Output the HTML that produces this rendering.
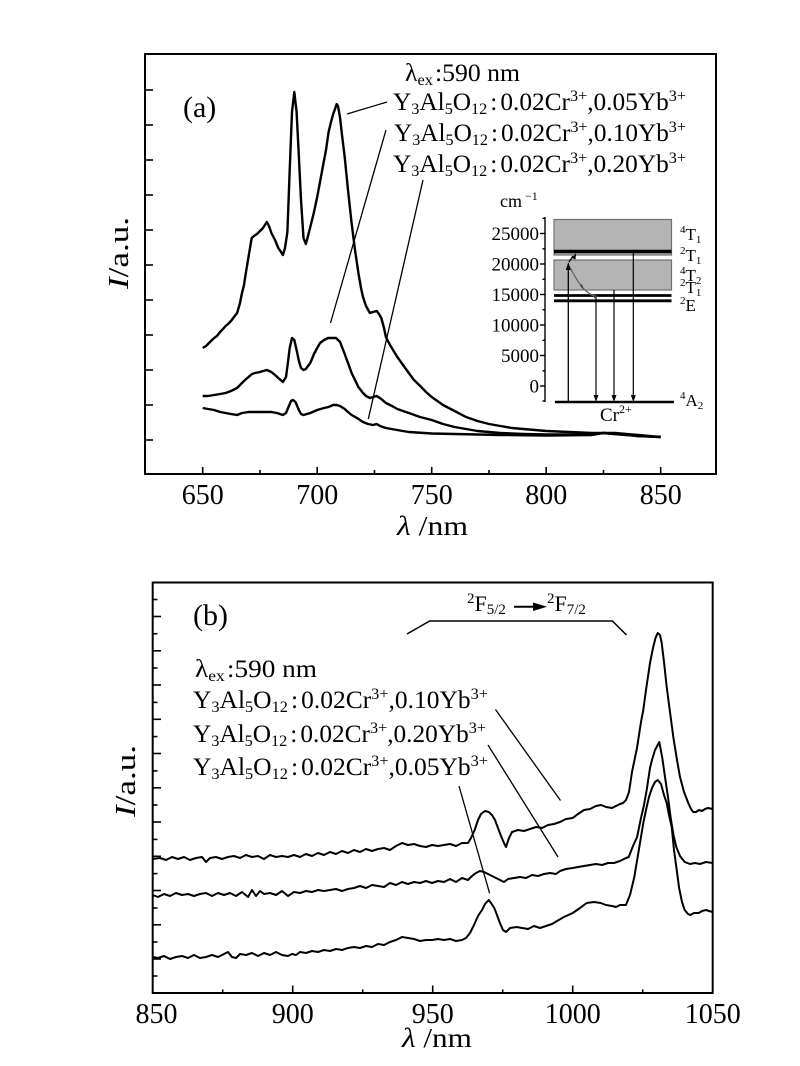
<!DOCTYPE html>
<html><head><meta charset="utf-8"><style>
html,body{margin:0;padding:0;background:#fff;}
svg{display:block;}
text{font-family:"Liberation Serif","DejaVu Serif",serif;fill:#000;}
</style></head><body>
<svg width="800" height="1066" viewBox="0 0 800 1066" xmlns="http://www.w3.org/2000/svg">
<rect width="800" height="1066" fill="#fff"/>

<!-- ================= PANEL A ================= -->
<rect x="145" y="54" width="571" height="420" fill="none" stroke="#000" stroke-width="2"/>
<g stroke="#000" stroke-width="1.6">
<line x1="145" y1="90" x2="153" y2="90"/><line x1="145" y1="125" x2="153" y2="125"/>
<line x1="145" y1="160" x2="153" y2="160"/><line x1="145" y1="195" x2="153" y2="195"/>
<line x1="145" y1="230" x2="153" y2="230"/><line x1="145" y1="265" x2="153" y2="265"/>
<line x1="145" y1="300" x2="153" y2="300"/><line x1="145" y1="335" x2="153" y2="335"/>
<line x1="145" y1="370" x2="153" y2="370"/><line x1="145" y1="405" x2="153" y2="405"/>
<line x1="145" y1="440" x2="153" y2="440"/>
<line x1="202.7" y1="474" x2="202.7" y2="467"/><line x1="317.2" y1="474" x2="317.2" y2="467"/>
<line x1="431.7" y1="474" x2="431.7" y2="467"/><line x1="546.2" y1="474" x2="546.2" y2="467"/>
<line x1="660.7" y1="474" x2="660.7" y2="467"/>
<line x1="260" y1="474" x2="260" y2="470"/><line x1="374.5" y1="474" x2="374.5" y2="470"/>
<line x1="489" y1="474" x2="489" y2="470"/><line x1="603.5" y1="474" x2="603.5" y2="470"/>
</g>
<g font-size="28" text-anchor="middle">
<text x="202.7" y="504">650</text><text x="317.2" y="504">700</text><text x="431.7" y="504">750</text>
<text x="546.2" y="504">800</text><text x="660.7" y="504">850</text>
</g>
<text x="397" y="535" font-size="27" textLength="71" lengthAdjust="spacingAndGlyphs"><tspan font-style="italic">λ</tspan> /nm</text>
<text transform="translate(128,253) rotate(-90)" text-anchor="middle" font-size="28" textLength="72" lengthAdjust="spacingAndGlyphs"><tspan font-style="italic">I</tspan>/a.u.</text>
<text x="183" y="117" font-size="30">(a)</text>

<g fill="none" stroke="#000" stroke-width="2.4" stroke-linejoin="round">
<polyline points="202.7,348 206,346 209,343 212,340 214.2,338 217,336 220,332 223,329 225.6,326 228,324 231,321 234,317 237.1,313 240,303 242,293 244,285 246,272 248,260 251.7,238 254,236 257,234 260,231 263,228 266.8,222 269,226 271.4,233 275,240 278.3,248 281,252 282.9,255 285,248 287.4,232 289.7,170 292,112 294.3,92 296.6,112 298.9,157 301,200 303.5,238 305.8,244 308,236 310.3,227 314,212 317.2,197 320,182 324.1,160 326,150 328.6,132 331,122 333.2,114 335,109 336.7,104 338,106 340.1,118 342,135 344.7,157 348,190 351.6,223 355,250 358.4,273 361,288 363,297 366,306 369.9,313 373,312 376.7,311 379,314 381.3,318 384,328 385.9,337 390,345 397.3,357 403,365 408.8,373 414,380 420.2,386 426,392 431.7,397 443,405 454.6,411 466,417 477.5,421 489,424 500.4,426 512,428 523.3,429 535,430 546.2,431 569.1,432 592,433 614.9,433 637.8,435 660.7,437"/>
<polyline points="202.7,396 208,396 214.2,395 220,394 225.6,393 231,391 237.1,388 242,383 245,380 248.5,377 252,374 255,373 260,372 263,371 266.8,370 271.4,372 275,375 278.3,378 282.9,382 286,377 288,362 289.7,348 292,338 294.3,340 296.6,350 298.9,361 301,368 303.5,370 305.8,369 308,366 310.3,363 314,354 317.2,348 320,343 324.1,340 328,338 333.2,338 336,338 340.1,342 342,347 344.7,354 348,363 351.6,373 355,380 358.4,387 363,393 366,396 369.9,398 373,397 376.7,396 381.3,399 385.9,403 392,406 397.3,409 403,411 408.8,413 420,417 431.7,420 443,424 454.6,427 466,429 477.5,431 500.4,433 523.3,434 546.2,434.5 592,434.5 603.5,433 614.9,434 637.8,436 660.7,437"/>
<polyline points="202.7,408 208,409 214.2,410 220,412 225.6,413 231,414 237.1,415 242,413 248.5,412 260,412 271.4,412 277,413 282.9,415 286,413 288.5,407 291,401 293,400 295.5,402 298.9,410 301,414 303.5,415 307,414 310.3,413 317.2,410 324,408 328.6,407 333,405 336.7,405 340,406 344.7,409 348,412 351.6,415 357,418 363,422 368,424 373,425 376.7,424 380,426 385.9,428 397,430 408.8,432 431.7,433.5 454.6,434 500,435 546.2,435.5 592,435 603.5,433 614.9,434 637.8,436 660.7,437"/>
</g>
<g stroke="#000" stroke-width="1.3">
<line x1="347" y1="114" x2="387" y2="102"/>
<line x1="386" y1="130" x2="330.5" y2="323"/>
<line x1="423" y1="180" x2="368.3" y2="419"/>
</g>
<text x="405" y="81" font-size="25" textLength="115" lengthAdjust="spacingAndGlyphs">λ<tspan font-size="16" dy="4">ex</tspan><tspan dy="-4" dx="2">:590 nm</tspan></text>
<text x="393" y="110" font-size="25" textLength="293" lengthAdjust="spacingAndGlyphs">Y<tspan font-size="16" dy="4">3</tspan><tspan dy="-4">Al</tspan><tspan font-size="16" dy="4">5</tspan><tspan dy="-4">O</tspan><tspan font-size="16" dy="4">12</tspan><tspan dy="-4" dx="3">:</tspan><tspan dx="3">0.02Cr</tspan><tspan font-size="16" dy="-9">3+</tspan><tspan dy="9">,0.05Yb</tspan><tspan font-size="16" dy="-9">3+</tspan></text>
<text x="394" y="141" font-size="25" textLength="292" lengthAdjust="spacingAndGlyphs">Y<tspan font-size="16" dy="4">3</tspan><tspan dy="-4">Al</tspan><tspan font-size="16" dy="4">5</tspan><tspan dy="-4">O</tspan><tspan font-size="16" dy="4">12</tspan><tspan dy="-4" dx="3">:</tspan><tspan dx="3">0.02Cr</tspan><tspan font-size="16" dy="-9">3+</tspan><tspan dy="9">,0.10Yb</tspan><tspan font-size="16" dy="-9">3+</tspan></text>
<text x="393" y="172" font-size="25" textLength="293" lengthAdjust="spacingAndGlyphs">Y<tspan font-size="16" dy="4">3</tspan><tspan dy="-4">Al</tspan><tspan font-size="16" dy="4">5</tspan><tspan dy="-4">O</tspan><tspan font-size="16" dy="4">12</tspan><tspan dy="-4" dx="3">:</tspan><tspan dx="3">0.02Cr</tspan><tspan font-size="16" dy="-9">3+</tspan><tspan dy="9">,0.20Yb</tspan><tspan font-size="16" dy="-9">3+</tspan></text>

<!-- inset -->
<text x="500" y="207" font-size="18">cm<tspan font-size="12" dy="-7"> −1</tspan></text>
<g stroke="#000" stroke-width="1.4">
<line x1="545" y1="217" x2="545" y2="402"/>
<line x1="540" y1="386" x2="545" y2="386"/><line x1="540" y1="355.5" x2="545" y2="355.5"/>
<line x1="540" y1="325" x2="545" y2="325"/><line x1="540" y1="294.5" x2="545" y2="294.5"/>
<line x1="540" y1="264" x2="545" y2="264"/><line x1="540" y1="233.5" x2="545" y2="233.5"/>
<line x1="542.5" y1="401" x2="545" y2="401"/><line x1="542.5" y1="370.8" x2="545" y2="370.8"/>
<line x1="542.5" y1="340.3" x2="545" y2="340.3"/><line x1="542.5" y1="309.8" x2="545" y2="309.8"/>
<line x1="542.5" y1="279.3" x2="545" y2="279.3"/><line x1="542.5" y1="248.8" x2="545" y2="248.8"/>
<line x1="542.5" y1="218.3" x2="545" y2="218.3"/>
</g>
<g font-size="19" text-anchor="end">
<text x="539" y="240">25000</text><text x="539" y="270.5">20000</text><text x="539" y="301">15000</text>
<text x="539" y="331.5">10000</text><text x="539" y="362">5000</text><text x="539" y="392.5">0</text>
</g>
<rect x="554" y="219.5" width="117.5" height="35.5" fill="#b4b4b4" stroke="#707070" stroke-width="1.2"/>
<rect x="554" y="260" width="117.5" height="30" fill="#b4b4b4" stroke="#707070" stroke-width="1.2"/>
<g stroke="#000">
<line x1="554" y1="251.5" x2="671.5" y2="251.5" stroke-width="3.5"/>
<line x1="554" y1="295.5" x2="671.5" y2="295.5" stroke-width="2.8"/>
<line x1="554" y1="300.8" x2="671.5" y2="300.8" stroke-width="2.8"/>
<line x1="555" y1="402" x2="674" y2="402" stroke-width="2.6"/>
<line x1="568.3" y1="402" x2="568.3" y2="268" stroke-width="1.3"/>
<line x1="596" y1="297" x2="596" y2="396" stroke-width="1.2"/>
<line x1="614" y1="290" x2="614" y2="396" stroke-width="1.2"/>
<line x1="633.3" y1="253" x2="633.3" y2="396" stroke-width="1.2"/>
<line x1="569" y1="262" x2="573" y2="256" stroke-width="1.3"/>
</g>
<path d="M569,266 C574,274 578,283 583,288 C588,293 592,296 597,296.5" fill="none" stroke="#666" stroke-width="1.3"/>
<g fill="#000">
<polygon points="565.8,270 568.3,262 570.8,270"/>
<polygon points="593.5,395 596,402 598.5,395"/>
<polygon points="611.5,395 614,402 616.5,395"/>
<polygon points="630.8,395 633.3,402 635.8,395"/>
<polygon points="572,258 576,253 575.5,259.5"/>
<polygon points="580,286 584,290 582,284" fill="#444"/>
<polygon points="594,294 598,296.5 594,298.5" fill="#444"/>
</g>
<g font-size="17">
<text x="680" y="240"><tspan font-size="11" dy="-7">4</tspan><tspan dy="7">T</tspan><tspan font-size="11" dy="3">1</tspan></text>
<text x="680" y="261"><tspan font-size="11" dy="-7">2</tspan><tspan dy="7">T</tspan><tspan font-size="11" dy="3">1</tspan></text>
<text x="680" y="281"><tspan font-size="11" dy="-7">4</tspan><tspan dy="7">T</tspan><tspan font-size="11" dy="3">2</tspan></text>
<text x="680" y="293"><tspan font-size="11" dy="-7">2</tspan><tspan dy="7">T</tspan><tspan font-size="11" dy="3">1</tspan></text>
<text x="680" y="311"><tspan font-size="11" dy="-7">2</tspan><tspan dy="7">E</tspan></text>
<text x="680" y="406"><tspan font-size="11" dy="-7">4</tspan><tspan dy="7">A</tspan><tspan font-size="11" dy="3">2</tspan></text>
</g>
<text x="600" y="421" font-size="19">Cr<tspan font-size="12" dy="-8">2+</tspan></text>

<!-- ================= PANEL B ================= -->
<rect x="152.7" y="582.5" width="560" height="410.5" fill="none" stroke="#000" stroke-width="2"/>
<g stroke="#000" stroke-width="1.6">
<line x1="152.7" y1="959" x2="161" y2="959"/><line x1="152.7" y1="924.8" x2="161" y2="924.8"/>
<line x1="152.7" y1="890.5" x2="161" y2="890.5"/><line x1="152.7" y1="856.3" x2="161" y2="856.3"/>
<line x1="152.7" y1="822" x2="161" y2="822"/><line x1="152.7" y1="787.8" x2="161" y2="787.8"/>
<line x1="152.7" y1="753.5" x2="161" y2="753.5"/><line x1="152.7" y1="719.3" x2="161" y2="719.3"/>
<line x1="152.7" y1="685" x2="161" y2="685"/><line x1="152.7" y1="650.8" x2="161" y2="650.8"/>
<line x1="152.7" y1="616.5" x2="161" y2="616.5"/>
<line x1="152.7" y1="976" x2="157.5" y2="976"/><line x1="152.7" y1="942" x2="157.5" y2="942"/>
<line x1="152.7" y1="908" x2="157.5" y2="908"/><line x1="152.7" y1="873.6" x2="157.5" y2="873.6"/>
<line x1="152.7" y1="839.4" x2="157.5" y2="839.4"/><line x1="152.7" y1="805" x2="157.5" y2="805"/>
<line x1="152.7" y1="770.9" x2="157.5" y2="770.9"/><line x1="152.7" y1="736.6" x2="157.5" y2="736.6"/>
<line x1="152.7" y1="702.4" x2="157.5" y2="702.4"/><line x1="152.7" y1="668" x2="157.5" y2="668"/>
<line x1="152.7" y1="633.7" x2="157.5" y2="633.7"/><line x1="152.7" y1="599.5" x2="157.5" y2="599.5"/>
<line x1="292.7" y1="993" x2="292.7" y2="985.5"/><line x1="432.7" y1="993" x2="432.7" y2="985.5"/>
<line x1="572.7" y1="993" x2="572.7" y2="985.5"/>
<line x1="222.7" y1="993" x2="222.7" y2="989.5"/><line x1="362.7" y1="993" x2="362.7" y2="989.5"/>
<line x1="502.7" y1="993" x2="502.7" y2="989.5"/><line x1="642.7" y1="993" x2="642.7" y2="989.5"/>
</g>
<g font-size="28" text-anchor="middle">
<text x="156.5" y="1023">850</text><text x="292.7" y="1023">900</text><text x="432.7" y="1023">950</text>
<text x="572.7" y="1023">1000</text><text x="712.7" y="1023">1050</text>
</g>
<text x="402" y="1047" font-size="27" textLength="70" lengthAdjust="spacingAndGlyphs"><tspan font-style="italic">λ</tspan> /nm</text>
<text transform="translate(135,781) rotate(-90)" text-anchor="middle" font-size="28" textLength="72" lengthAdjust="spacingAndGlyphs"><tspan font-style="italic">I</tspan>/a.u.</text>
<text x="193" y="625" font-size="30">(b)</text>

<polyline points="407,634 429.7,621 612.4,621 626.5,635" fill="none" stroke="#000" stroke-width="1.5"/>
<text x="467" y="611" font-size="22"><tspan font-size="15" dy="-8">2</tspan><tspan dy="8">F</tspan><tspan font-size="15" dy="3">5/2</tspan></text>
<line x1="514" y1="606.7" x2="537" y2="606.7" stroke="#000" stroke-width="2"/>
<polygon points="533,602.5 547,606.7 533,611" fill="#000"/>
<text x="547" y="611" font-size="22"><tspan font-size="15" dy="-8">2</tspan><tspan dy="8">F</tspan><tspan font-size="15" dy="3">7/2</tspan></text>

<text x="195" y="677" font-size="25" textLength="122" lengthAdjust="spacingAndGlyphs">λ<tspan font-size="16" dy="4">ex</tspan><tspan dy="-4" dx="2">:590 nm</tspan></text>
<text x="193" y="708" font-size="25" textLength="295" lengthAdjust="spacingAndGlyphs">Y<tspan font-size="16" dy="4">3</tspan><tspan dy="-4">Al</tspan><tspan font-size="16" dy="4">5</tspan><tspan dy="-4">O</tspan><tspan font-size="16" dy="4">12</tspan><tspan dy="-4" dx="3">:</tspan><tspan dx="3">0.02Cr</tspan><tspan font-size="16" dy="-9">3+</tspan><tspan dy="9">,0.10Yb</tspan><tspan font-size="16" dy="-9">3+</tspan></text>
<text x="193" y="742" font-size="25" textLength="293" lengthAdjust="spacingAndGlyphs">Y<tspan font-size="16" dy="4">3</tspan><tspan dy="-4">Al</tspan><tspan font-size="16" dy="4">5</tspan><tspan dy="-4">O</tspan><tspan font-size="16" dy="4">12</tspan><tspan dy="-4" dx="3">:</tspan><tspan dx="3">0.02Cr</tspan><tspan font-size="16" dy="-9">3+</tspan><tspan dy="9">,0.20Yb</tspan><tspan font-size="16" dy="-9">3+</tspan></text>
<text x="193" y="775" font-size="25" textLength="295" lengthAdjust="spacingAndGlyphs">Y<tspan font-size="16" dy="4">3</tspan><tspan dy="-4">Al</tspan><tspan font-size="16" dy="4">5</tspan><tspan dy="-4">O</tspan><tspan font-size="16" dy="4">12</tspan><tspan dy="-4" dx="3">:</tspan><tspan dx="3">0.02Cr</tspan><tspan font-size="16" dy="-9">3+</tspan><tspan dy="9">,0.05Yb</tspan><tspan font-size="16" dy="-9">3+</tspan></text>

<g stroke="#000" stroke-width="1.3">
<line x1="495.5" y1="709.5" x2="560.5" y2="800.5"/>
<line x1="488" y1="745" x2="558" y2="857"/>
<line x1="459" y1="786" x2="489.6" y2="893.3"/>
</g>

<g fill="none" stroke="#000" stroke-width="2" stroke-linejoin="round">
<polyline points="152.7,859 160,858 166,860 172,857 178,859 184,857 190,860 196,858 202,857 206,862 210,858 216,857 222,859 228,857 234,856 240,858 246,855 252,857 258,856 264,859 270,855 276,857 282,856 288,857 294,855 300,857 306,854 312,856 318,853 324,855 330,852 336,854 342,851 348,853 354,850 360,852 366,849 372,851 378,849 384,848 390,850 396,846 402,843 408,845 414,844 420,846 426,847 432,845 438,846 444,845 450,844 456,846 462,843 468,843 471,838 474.7,830 478,820 481,814 485,811 488.7,812 492,815 495,820 498,828 501,836 504,843 506,847 509,838 512,832 518,830 524,831 530,829 536,827 542,828 548,825 554,824 560,822 566,819 572.7,818 578,814 584,810 590,809 596,806 601,805 606,807 612,808 616,806 620,804 623,803 626,800 629,792 632,772 637,748 641,722 643.3,710 646,690 650,663 653,648 655.5,638 657.7,633 660,635 661.7,643 664,662 666.7,687 670,712 673.3,737 677,760 680,777 684,792 688.3,803 691,809 693.3,812 696,812 699,810 702,811 705,809 708,808 712.7,809"/>
<polyline points="152.7,895 158,897 164,894 170,896 176,893 182,895 188,894 194,896 200,894 206,893 212,896 218,893 224,895 230,893 236,896 242,892 248,897 252,890 256,896 260,891 264,894 270,893 276,895 282,891 288,896 294,892 300,893 306,891 312,892 318,890 324,891 330,890 336,889 342,891 348,889 354,888 360,886 366,888 372,885 378,886 384,887 390,883 396,885 402,882 408,884 414,882 420,883 426,881 432,883 438,881 444,882 450,879 456,882 462,878 468,880 472,876 476,873 480,871 484,872 488,874 492,876 496,878 500,880 504,882 508,879 514,878 520,877 526,878 532,875 538,876 544,874 550,873 556,874 560,871 566,869 572.7,868 578,867 584,866 590,865 596,864 602,865 608,863 614,863 620,861 626,858 628.7,857 633,846 637.1,837 641,818 644,805 646.7,790 650,768 652,760 655,750 659.3,742 662.3,758 665,777 668,797 670.7,818 673.5,835 676.3,847 680,856 684.7,862 690,864 695,863 700,864 706,862 712.7,863"/>
<polyline points="152.7,957 158,958 164,956 170,959 176,957 182,956 188,958 194,955 200,958 206,957 212,955 218,957 224,954 228,952 232,957 236,958 240,954 246,955 252,953 258,956 264,953 270,955 276,952 282,955 288,956 292,954 296,955 300,952 306,953 312,951 318,952 324,950 330,951 336,949 342,950 348,948 354,947 360,948 366,946 372,947 378,944 384,945 390,942 396,940 402,937 408,938 414,939 420,941 426,940 432,940 438,939 444,940 450,939 456,941 462,940 466,938 470,933 474,925 478,916 482,910 485,904 488.7,900 491,903 494.3,908 497,915 499.9,923 503,930 506,932 510,928 516.7,927 522,928 528,929 534,926 540,928 546,926 552,924 558.7,920 564,917 572.7,913 580,908 586.7,903 594,902 600.7,903 606,905 612,906 616,907 620,905 625.9,905 630,895 634.3,877 638,855 643.3,823 646,810 649,797 652,788 655,782 657.7,780 661,784 664,795 666.7,803 669,815 671.7,827 674,850 677,872 679.1,888 682,902 684.7,910 688,914 690.3,915 694,913 698.7,913 702,911 706,910 709,911 712.7,912"/>
</g>
</svg>
</body></html>
